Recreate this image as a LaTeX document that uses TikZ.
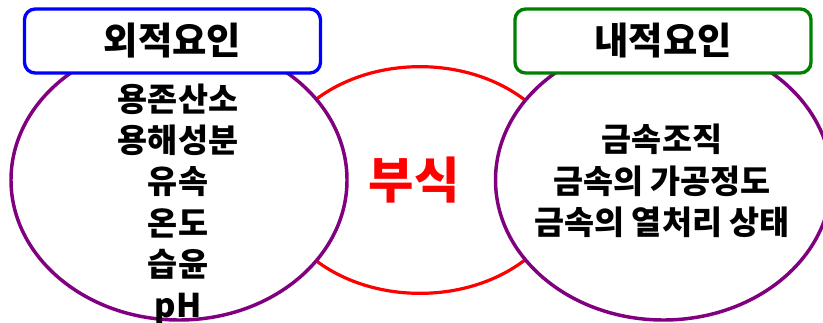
\documentclass[tikz,border=0pt]{standalone}
\usepackage{fontspec}
\setmainfont{Noto Sans CJK KR}
\usetikzlibrary{shapes.geometric}
\definecolor{cpurple}{RGB}{128,0,128}
\definecolor{cgreen}{RGB}{0,128,0}
\definecolor{cblue}{RGB}{0,0,255}
\definecolor{cred}{RGB}{255,0,0}
\begin{document}
\begin{tikzpicture}[x=0.75pt,y=-0.75pt,
  factor/.style={ellipse,draw=cpurple,fill=white,line width=2.6pt,inner sep=0pt,minimum width=252pt,minimum height=210pt},
  core/.style={ellipse,draw=cred,fill=white,line width=2.4pt,inner sep=0pt,minimum width=222pt,minimum height=170pt},
  header/.style={rectangle,rounded corners=8pt,fill=white,line width=2.5pt,inner sep=0pt,minimum width=222pt,minimum height=48pt,font=\fontsize{28pt}{32pt}\selectfont\bfseries},
  list/.style={align=center,font=\fontsize{24.5pt}{31pt}\selectfont\bfseries,inner sep=0pt}]
\useasboundingbox (0,0) rectangle (823,322);
\node[core] (core) at (420,180) {};
\node[factor] (left) at (179,180) {};
\node[factor] (right) at (663.5,180) {};
\node[header,draw=cblue] (lh) at (172.5,41) {외적요인};
\node[header,draw=cgreen] (rh) at (663,41) {내적요인};
\node[list] (ll) at (178,204) {용존산소\\용해성분\\유속\\온도\\습윤\\pH};
\node[list] (rl) at (662,181) {금속조직\\금속의\ 가공정도\\금속의\ 열처리\ 상태};
\node[text=cred,font=\fontsize{37pt}{40pt}\selectfont\bfseries,inner sep=0pt] (bs) at (414,180) {부식};
\end{tikzpicture}
\end{document}
